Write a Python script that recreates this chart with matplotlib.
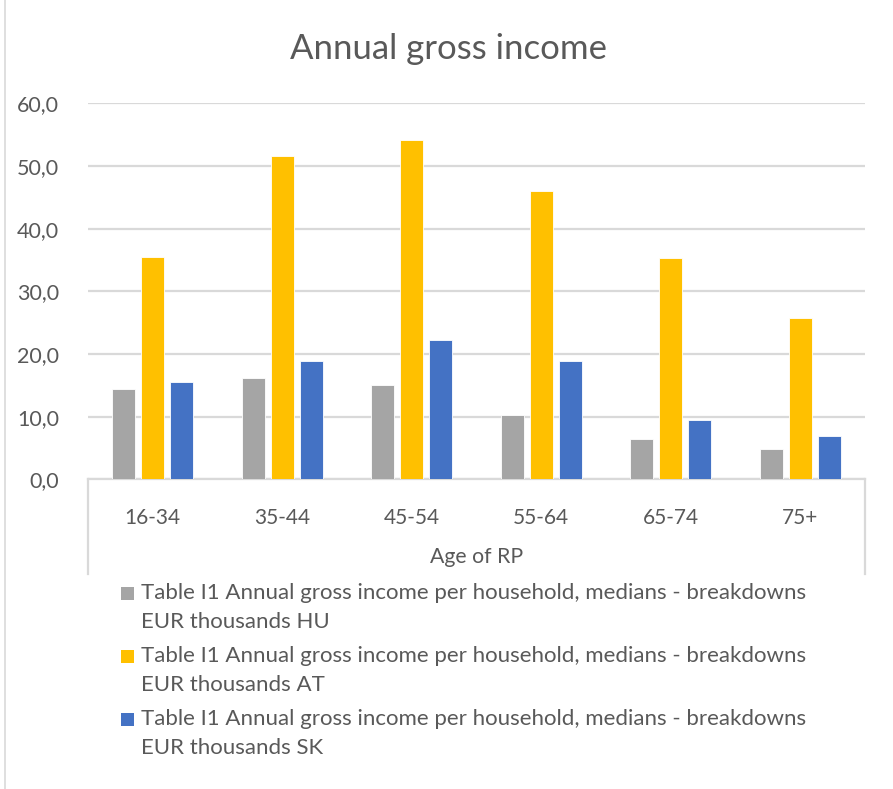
import numpy as np
import matplotlib
matplotlib.use("Agg")
import matplotlib.pyplot as plt
from matplotlib.patches import Rectangle
from matplotlib.lines import Line2D

# Median annual gross income per household (EUR thousands) by age of reference person
AGE_GROUPS = ["16-34", "35-44", "45-54", "55-64", "65-74", "75+"]
HU = [14.4, 16.2, 15.0, 10.3, 6.5, 4.9]
AT = [35.5, 51.6, 54.1, 46.0, 35.3, 25.7]
SK = [15.6, 18.9, 22.3, 18.9, 9.4, 6.9]

SERIES_LABELS = [
    "Table I1 Annual gross income per household, medians - breakdowns\nEUR thousands HU",
    "Table I1 Annual gross income per household, medians - breakdowns\nEUR thousands AT",
    "Table I1 Annual gross income per household, medians - breakdowns\nEUR thousands SK",
]
COLORS = ["#A5A5A5", "#FFC000", "#4472C4"]
TEXT = "#595959"
GRID = "#D9D9D9"

W, H = 893, 789
plt.rcParams["font.family"] = ["Lato", "DejaVu Sans"]

fig = plt.figure(figsize=(W / 100, H / 100), dpi=100)
fig.patch.set_facecolor("white")

# plot area in pixel coordinates
x0, x1 = 88, 865
y_top, y_bot = 103.3, 479.3
ax = fig.add_axes([x0 / W, 1 - y_bot / H, (x1 - x0) / W, (y_bot - y_top) / H])

x = np.arange(len(AGE_GROUPS))
width = 0.175
step = 0.224
for i, (vals, col) in enumerate(zip([HU, AT, SK], COLORS)):
    ax.bar(x + (i - 1) * step, vals, width=width, color=col,
           edgecolor="white", linewidth=0.6, zorder=3)

ax.set_xlim(-0.5, len(AGE_GROUPS) - 0.5)
ax.set_ylim(0, 60)
ax.set_yticks(np.arange(0, 61, 10))
ax.set_yticklabels([f"{v:.1f}".replace(".", ",") for v in np.arange(0, 61, 10)])
ax.yaxis.grid(True, color=GRID, linewidth=1.6, zorder=0)
ax.set_xticks(x)
ax.set_xticklabels(AGE_GROUPS)
ax.tick_params(axis="x", length=0, pad=21, labelsize=15, labelcolor=TEXT)
ax.tick_params(axis="y", length=0, pad=21, labelsize=15.5, labelcolor=TEXT)
for side in ["top", "right", "left"]:
    ax.spines[side].set_visible(False)
ax.spines["bottom"].set_color(GRID)
ax.spines["bottom"].set_linewidth(1.6)

# category axis box sides
drop = (574 - y_bot) / (y_bot - y_top)
for xa in (0, 1):
    ax.add_line(Line2D([xa, xa], [0, -drop], transform=ax.transAxes,
                       color=GRID, linewidth=1.6, clip_on=False))

fig.text(449 / W, 1 - 49 / H, "Annual gross income", ha="center", va="center",
         fontsize=25, color=TEXT)
fig.text((x0 + x1) / 2 / W, 1 - 557 / H, "Age of RP", ha="center", va="center",
         fontsize=15.3, color=TEXT)

# legend
for label, col, yc in zip(SERIES_LABELS, COLORS, [593, 656, 719]):
    fig.patches.append(Rectangle((121 / W, 1 - (yc + 6.5) / H), 13 / W, 13 / H,
                                 transform=fig.transFigure, facecolor=col,
                                 edgecolor="none"))
    first, second = label.split("\n")
    fig.text(141 / W, 1 - yc / H, first, ha="left", va="center",
             fontsize=16, color=TEXT)
    fig.text(141 / W, 1 - (yc + 28.7) / H, second, ha="left", va="center",
             fontsize=16, color=TEXT)

# chart border on the left edge
fig.add_artist(Line2D([5 / W, 5 / W], [0, 1], transform=fig.transFigure,
                      color=GRID, linewidth=1.2))

fig.savefig("out.png", dpi=100, facecolor="white")
